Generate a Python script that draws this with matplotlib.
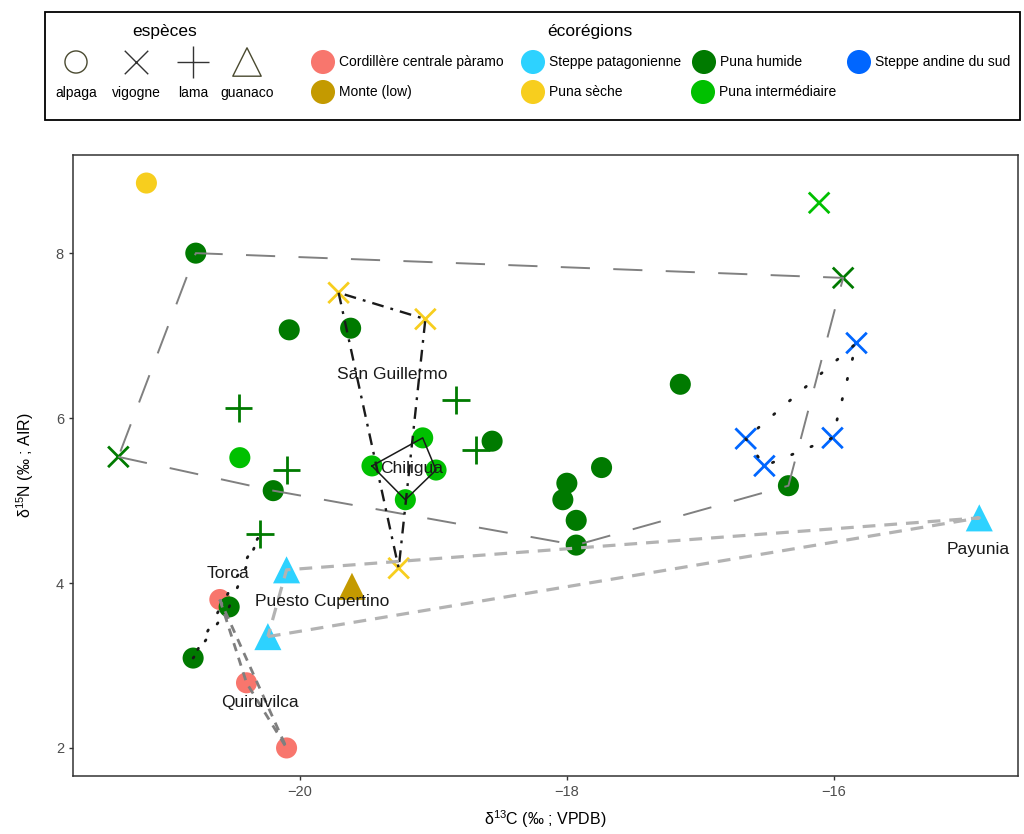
import numpy as np
import matplotlib
matplotlib.use('Agg')
import matplotlib.pyplot as plt

plt.rcParams['font.family'] = ['Liberation Sans', 'DejaVu Sans']
plt.rcParams['mathtext.default'] = 'regular'

# Valeurs (d13C, d15N)
d13c = [-21.15, -20.78, -20.08, -19.62, -19.71, -19.06, -19.26, -21.36, -20.46, -20.45,
        -20.10, -20.20, -20.30, -18.83, -18.68, -18.56, -19.46, -19.08, -18.98, -19.21,
        -18.00, -18.03, -17.93, -17.93, -17.74, -17.15, -16.34, -15.93, -16.11, -15.83,
        -16.66, -16.52, -16.01, -14.91, -20.10, -20.24, -19.61, -20.60, -20.40, -20.10,
        -20.53, -20.80]
d15n = [8.85, 8.00, 7.07, 7.09, 7.52, 7.20, 4.18, 5.53, 6.12, 5.52,
        5.37, 5.12, 4.59, 6.22, 5.61, 5.72, 5.42, 5.76, 5.37, 5.01,
        5.21, 5.01, 4.76, 4.46, 5.40, 6.41, 5.18, 7.70, 8.61, 6.91,
        5.75, 5.42, 5.76, 4.79, 4.16, 3.35, 3.96, 3.80, 2.79, 2.00,
        3.71, 3.09]
especes = ['alpaga', 'alpaga', 'alpaga', 'alpaga', 'vigogne', 'vigogne', 'vigogne', 'vigogne', 'lama', 'alpaga',
           'lama', 'alpaga', 'lama', 'lama', 'lama', 'alpaga', 'alpaga', 'alpaga', 'alpaga', 'alpaga',
           'alpaga', 'alpaga', 'alpaga', 'alpaga', 'alpaga', 'alpaga', 'alpaga', 'vigogne', 'vigogne', 'vigogne',
           'vigogne', 'vigogne', 'vigogne', 'guanaco', 'guanaco', 'guanaco', 'guanaco', 'alpaga', 'alpaga', 'alpaga',
           'alpaga', 'alpaga']
ecoregions = ['Puna sèche', 'Puna humide', 'Puna humide', 'Puna humide', 'Puna sèche', 'Puna sèche', 'Puna sèche',
              'Puna humide', 'Puna humide', 'Puna intermédiaire',
              'Puna humide', 'Puna humide', 'Puna humide', 'Puna humide', 'Puna humide', 'Puna humide',
              'Puna intermédiaire', 'Puna intermédiaire', 'Puna intermédiaire', 'Puna intermédiaire',
              'Puna humide', 'Puna humide', 'Puna humide', 'Puna humide', 'Puna humide', 'Puna humide',
              'Puna humide', 'Puna humide', 'Puna intermédiaire', 'Steppe andine du sud',
              'Steppe andine du sud', 'Steppe andine du sud', 'Steppe andine du sud', 'Steppe patagonienne',
              'Steppe patagonienne', 'Steppe patagonienne', 'Monte (low)',
              'Cordillère centrale pàramo', 'Cordillère centrale pàramo', 'Cordillère centrale pàramo',
              'Puna humide', 'Puna humide']
groupes = ['', 'puna_h', 'puna_h', 'puna_h', 'San Guillermo', 'San Guillermo', 'San Guillermo', 'puna_h', 'puna_h', '',
           'puna_h', 'puna_h', 'Torca', 'puna_h', 'puna_h', 'puna_h', 'Chiligua', 'Chiligua', 'Chiligua', 'Chiligua',
           'puna_h', 'puna_h', 'puna_h', 'puna_h', 'puna_h', 'puna_h', 'puna_h', 'puna_h', '', 'sud',
           'sud', 'sud', 'sud', 'patagonie', 'patagonie', 'patagonie', '', 'Quiruvilca', 'Quiruvilca', 'Quiruvilca',
           'Torca', 'Torca']

# étiquettes de sites
sites = ['San Guillermo', 'Chiligua', 'Torca', 'Puesto Cupertino', 'Quiruvilca', 'Payunia']
sites_x = [-19.31, -19.16, -20.54, -19.83, -20.30, -14.92]
sites_y = [6.53, 5.39, 4.12, 3.78, 2.55, 4.41]

couleurs = {
    'Cordillère centrale pàramo': '#F8766D',
    'Monte (low)': '#C49A00',
    'Steppe patagonienne': '#2DD2FF',
    'Puna sèche': '#F7CE1E',
    'Puna humide': '#007A00',
    'Puna intermédiaire': '#00C000',
    'Steppe andine du sud': '#0066FF',
}
formes = {'alpaga': 'o', 'vigogne': 'x', 'lama': '+', 'guanaco': '^'}
tailles = {'alpaga': 230, 'vigogne': 220, 'lama': 400, 'guanaco': 380}

styles_enveloppe = {
    'puna_h': dict(color='#808080', lw=1.4, dashes=(15, 12)),
    'San Guillermo': dict(color='#1a1a1a', lw=1.7, dashes=(5, 3, 1.2, 3)),
    'Chiligua': dict(color='#1a1a1a', lw=1.1),
    'sud': dict(color='#1a1a1a', lw=2.0, dashes=(0.5, 7), dash_capstyle='round'),
    'Torca': dict(color='#1a1a1a', lw=2.0, dashes=(0.5, 7), dash_capstyle='round'),
    'Quiruvilca': dict(color='#7f7f7f', lw=2.0, dashes=(3, 2.5)),
    'patagonie': dict(color='#b3b3b3', lw=2.3, dashes=(4, 2.8)),
}


def enveloppe(px, py):
    pts = sorted(set(zip(px, py)))
    if len(pts) < 3:
        return pts

    def cross(o, a, b):
        return (a[0] - o[0]) * (b[1] - o[1]) - (a[1] - o[1]) * (b[0] - o[0])
    bas, haut = [], []
    for p in pts:
        while len(bas) >= 2 and cross(bas[-2], bas[-1], p) <= 0:
            bas.pop()
        bas.append(p)
    for p in reversed(pts):
        while len(haut) >= 2 and cross(haut[-2], haut[-1], p) <= 0:
            haut.pop()
        haut.append(p)
    return bas[:-1] + haut[:-1]


fig = plt.figure(figsize=(10.24, 8.34), dpi=100)
ax = fig.add_axes([73 / 1024, 1 - 776 / 834, 945 / 1024, 621 / 834])

d13c = np.array(d13c)
d15n = np.array(d15n)
especes = np.array(especes)
ecoregions = np.array(ecoregions)
groupes = np.array(groupes)

for esp, m in formes.items():
    sel = especes == esp
    cols = [couleurs[e] for e in ecoregions[sel]]
    if m in ('x', '+'):
        ax.scatter(d13c[sel], d15n[sel], marker=m, s=tailles[esp], c=cols, linewidths=2.0, zorder=2)
    else:
        ax.scatter(d13c[sel], d15n[sel], marker=m, s=tailles[esp], c=cols, edgecolors='none', zorder=2)

for g, st in styles_enveloppe.items():
    sel = groupes == g
    h = enveloppe(d13c[sel], d15n[sel])
    hx = [p[0] for p in h] + [h[0][0]]
    hy = [p[1] for p in h] + [h[0][1]]
    st = dict(st)
    dashes = st.pop('dashes', None)
    line, = ax.plot(hx, hy, zorder=3, **st)
    if dashes is not None:
        line.set_dashes(dashes)

for nom, sx, sy in zip(sites, sites_x, sites_y):
    ax.text(sx, sy, nom, ha='center', va='center', fontsize=12.5, color='#1a1a1a', zorder=4)

ax.set_xlim(-21.70, -14.62)
ax.set_ylim(1.66, 9.19)
ax.set_xticks([-20, -18, -16])
ax.set_yticks([2, 4, 6, 8])
ax.set_xticklabels(['\u221220', '\u221218', '\u221216'])
ax.tick_params(colors='#333333', labelcolor='#4d4d4d', labelsize=10.5, length=3, width=1)
for s in ax.spines.values():
    s.set_color('#333333')
    s.set_linewidth(1.1)
ax.set_xlabel('δ$^{13}$C (‰ ; VPDB)', fontsize=11.5, labelpad=7)
ax.set_ylabel('δ$^{15}$N (‰ ; AIR)', fontsize=11.5, labelpad=14)

# légende manuelle (coordonnées en pixels de la figure)
lg = fig.add_axes([0, 0, 1, 1], zorder=5)
lg.set_xlim(0, 1024)
lg.set_ylim(834, 0)
lg.axis('off')
lg.add_patch(plt.Rectangle((45, 12), 975, 108, fill=False, ec='black', lw=1.3))
lg.text(165, 31, 'espèces', ha='center', va='center', fontsize=12.5)
lg.text(590, 31, 'écorégions', ha='center', va='center', fontsize=12.5)

leg_x = [76, 136, 193, 247]
for esp, lx in zip(formes, leg_x):
    m = formes[esp]
    if m in ('x', '+'):
        lg.scatter([lx], [62], marker=m, s=tailles[esp] * 1.3, c='#333333', linewidths=1.0)
    else:
        lg.scatter([lx], [62], marker=m, s=tailles[esp] * 1.1, facecolors='none', edgecolors='#4a4a30', linewidths=1.0)
    lg.text(lx, 93, esp, ha='center', va='center', fontsize=10)

eco_ordre = ['Cordillère centrale pàramo', 'Monte (low)', 'Steppe patagonienne', 'Puna sèche',
             'Puna humide', 'Puna intermédiaire', 'Steppe andine du sud']
eco_x = [323, 323, 533, 533, 704, 703, 859]
eco_y = [62, 92, 62, 92, 62, 92, 62]
for e, ex, ey in zip(eco_ordre, eco_x, eco_y):
    lg.scatter([ex], [ey], marker='o', s=300, c=couleurs[e], edgecolors='none')
    lg.text(ex + 16, ey, e, ha='left', va='center', fontsize=10)

fig.savefig('out.png', dpi=100)
